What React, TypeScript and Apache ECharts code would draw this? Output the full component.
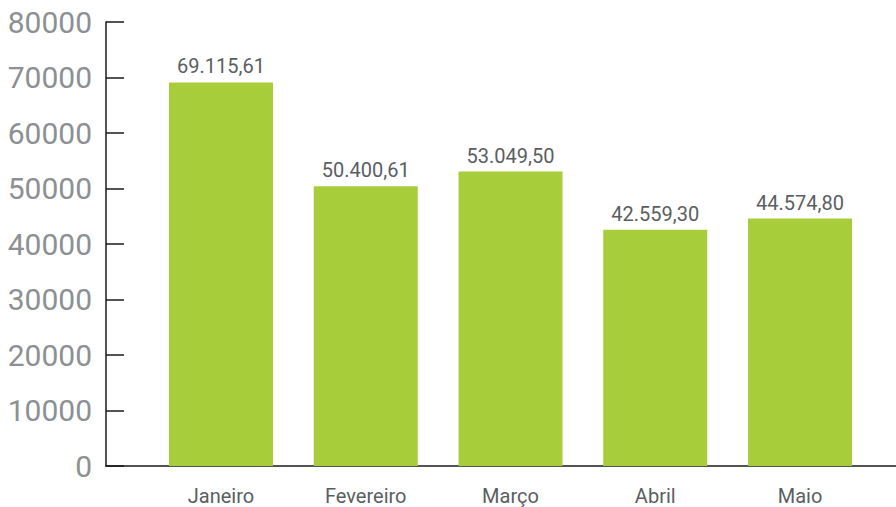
import React, { useEffect, useRef } from "react";
import * as echarts from "echarts";

const months = ["Janeiro", "Fevereiro", "Março", "Abril", "Maio"];
const values = [69115.61, 50400.61, 53049.5, 42559.3, 44574.8];
const yMin = 0;
const yMax = 80000;
const yStep = 10000;

function formatBR(v: number): string {
  const fixed = v.toFixed(2);
  const [intPart, dec] = fixed.split(".");
  const withDots = intPart.replace(/\B(?=(\d{3})+(?!\d))/g, ".");
  return withDots + "," + dec;
}

export default function App() {
  const ref = useRef<HTMLDivElement>(null);
  useEffect(() => {
    if (!ref.current) return;
    const chart = echarts.init(ref.current, undefined, { renderer: "svg" });
    const font = "Roboto, 'Noto Sans', sans-serif";
    chart.setOption({
      animation: false,
      backgroundColor: "#ffffff",
      grid: [
        { left: 106, right: 0, top: 22, bottom: 41, containLabel: false },
        { left: 148.6, right: 23.6, top: 22, bottom: 41, containLabel: false },
      ],
      xAxis: [
        {
          type: "value",
          gridIndex: 0,
          min: 0,
          max: 1,
          axisLine: { show: true, lineStyle: { color: "#1a1a1a", width: 1.5 } },
          axisTick: { show: false },
          axisLabel: { show: false },
          splitLine: { show: false },
        },
        {
          type: "category",
          gridIndex: 1,
          data: months,
          axisLine: { show: false },
          axisTick: { show: false },
          axisLabel: {
            color: "#5a5e62",
            fontFamily: font,
            fontSize: 20,
            lineHeight: 20,
            margin: 20,
          },
        },
      ],
      yAxis: [
        {
          type: "value",
          gridIndex: 0,
          min: yMin,
          max: yMax,
          interval: yStep,
          axisLine: { show: true, lineStyle: { color: "#1a1a1a", width: 1.5 } },
          axisTick: { show: true, inside: true, length: 18, lineStyle: { color: "#1a1a1a", width: 1.5 } },
          axisLabel: {
            color: "#8c9093",
            fontFamily: font,
            fontSize: 30,
            margin: 14,
            formatter: (v: number) => String(v),
          },
          splitLine: { show: false },
        },
        {
          type: "value",
          gridIndex: 1,
          min: yMin,
          max: yMax,
          interval: yStep,
          show: false,
        },
      ],
      series: [
        {
          type: "bar",
          xAxisIndex: 1,
          yAxisIndex: 1,
          data: values,
          barWidth: 104,
          itemStyle: { color: "#a8cd3a" },
          label: {
            show: true,
            position: "top",
            distance: 6,
            color: "#5a5e62",
            fontFamily: font,
            fontSize: 20,
            formatter: (p: any) => formatBR(p.value),
          },
        },
      ],
    });
    return () => chart.dispose();
  }, []);
  return <div ref={ref} style={{ width: 896, height: 507, position: "absolute", left: 0, top: 0 }} />;
}
